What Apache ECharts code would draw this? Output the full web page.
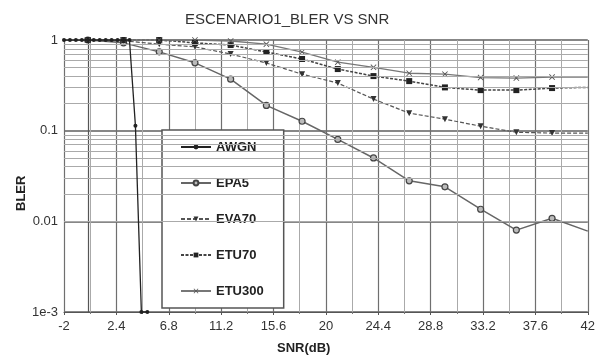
<!DOCTYPE html>
<html>
<head>
<meta charset="utf-8">
<style>
  html, body { margin: 0; padding: 0; background: #fff; }
  #chart { width: 598px; height: 358px; }
</style>
<script src="https://cdn.jsdelivr.net/npm/echarts@6/dist/echarts.min.js"></script>
</head>
<body>
<div id="chart"></div>
<script>
// SNR points (dB)
var awgnSnr = [-2, -1.5, -1, -0.5, 0, 0.5, 1, 1.5, 2, 2.5, 3, 3.5, 4, 4.5, 5];
var fadingSnr = [0, 3, 6, 9, 12, 15, 18, 21, 24, 27, 30, 33, 36, 39, 42];

// BLER per channel model
var awgnBler   = [1, 1, 1, 1, 1, 1, 1, 1, 1, 1, 1, 1, 0.113, 0.001, 0.001];
var epa5Bler   = [1, 0.93, 0.74, 0.56, 0.37, 0.19, 0.127, 0.08, 0.05, 0.028, 0.024, 0.0136, 0.008, 0.0108, 0.0078];
var eva70Bler  = [1, 0.98, 0.9, 0.84, 0.70, 0.557, 0.42, 0.335, 0.223, 0.156, 0.134, 0.112, 0.096, 0.094, 0.094];
var etu70Bler  = [1, 1, 1, 0.93, 0.88, 0.737, 0.617, 0.478, 0.40, 0.352, 0.30, 0.28, 0.28, 0.295, 0.30];
var etu300Bler = [1, 1, 1, 1, 0.975, 0.90, 0.737, 0.57, 0.50, 0.43, 0.42, 0.385, 0.38, 0.39, 0.39];

var seriesNames = ['AWGN', 'EPA5', 'EVA70', 'ETU70', 'ETU300'];

// Y tick labels for the decades
var yTickValues = [0.001, 0.01, 0.1, 1];
var yTickLabels = ['1e-3', '0.01', '0.1', '1'];

var FONT = 'Liberation Sans, Arial, Helvetica, sans-serif';
var X_SYMBOL = 'path://M0,1L1,0L5,4L9,0L10,1L6,5L10,9L9,10L5,6L1,10L0,9L4,5Z';

function pairs(xs, ys, hideLastAtEdge) {
  return xs.map(function (x, i) {
    if (hideLastAtEdge && i === xs.length - 1) {
      return { value: [x, ys[i]], symbol: 'none' };
    }
    return [x, ys[i]];
  });
}

// Minor log grid lines (2..9 within each decade)
var minorLogLines = [];
[0.001, 0.01, 0.1].forEach(function (d) {
  for (var m = 2; m <= 9; m++) {
    minorLogLines.push({ yAxis: +(d * m).toPrecision(3) });
  }
});

var chart = echarts.init(document.getElementById('chart'), null, { renderer: 'canvas' });

chart.setOption({
  animation: false,
  backgroundColor: '#fff',
  title: {
    text: 'ESCENARIO1_BLER VS SNR',
    left: 180,
    top: 7,
    textStyle: { fontFamily: FONT, fontSize: 15, fontWeight: 'normal', color: '#333' }
  },
  grid: { left: 64, right: 9, top: 40, bottom: 46 },
  legend: {
    data: seriesNames,
    orient: 'vertical',
    left: 162,
    top: 130,
    padding: [10, 20, 10, 18],
    itemGap: 22,
    itemWidth: 30,
    itemHeight: 6,
    backgroundColor: '#fff',
    borderColor: '#555',
    borderWidth: 1.5,
    textStyle: { fontFamily: FONT, fontSize: 13, fontWeight: 'bold', color: '#222', lineHeight: 14 }
  },
  xAxis: {
    type: 'value',
    min: -2,
    max: 42,
    interval: 4.4,
    axisLine: { show: true, lineStyle: { color: '#555', width: 1.2 } },
    axisTick: { show: true, length: 3, inside: false, lineStyle: { color: '#555' } },
    minorTick: { show: true, splitNumber: 2, length: 2, lineStyle: { color: '#777' } },
    axisLabel: { fontFamily: FONT, fontSize: 13, color: '#333', margin: 8 },
    splitLine: { show: true, lineStyle: { color: '#6f6f6f', width: 1.2 } },
    minorSplitLine: { show: true, lineStyle: { color: '#aaa', width: 1 } }
  },
  yAxis: {
    type: 'log',
    logBase: 10,
    min: 0.001,
    max: 1,
    axisLine: { show: true, lineStyle: { color: '#555', width: 1.2 } },
    axisTick: { show: false },
    axisLabel: {
      fontFamily: FONT, fontSize: 13, color: '#333', margin: 6,
      formatter: function (v) {
        for (var i = 0; i < yTickValues.length; i++) {
          if (Math.abs(Math.log10(v) - Math.log10(yTickValues[i])) < 1e-6) return yTickLabels[i];
        }
        return '';
      }
    },
    splitLine: { show: true, lineStyle: { color: '#5f5f5f', width: 1.5 } }
  },
  graphic: [
    {
      type: 'text', left: 277, top: 342,
      style: { text: 'SNR(dB)', font: 'bold 13px ' + FONT, fill: '#222' }
    },
    {
      type: 'text', x: 15, y: 211, rotation: Math.PI / 2,
      style: { text: 'BLER', font: 'bold 13px ' + FONT, fill: '#222' }
    }
  ],
  series: [
    {
      name: 'minor-grid',
      type: 'line',
      data: [],
      silent: true,
      z: 0,
      markLine: {
        silent: true,
        symbol: ['none', 'none'],
        label: { show: false },
        lineStyle: { color: '#aaa', width: 1, type: 'solid' },
        emphasis: { disabled: true },
        data: minorLogLines
      }
    },
    {
      name: 'AWGN', type: 'line',
      data: pairs(awgnSnr, awgnBler, false),
      symbol: 'circle', symbolSize: 4,
      itemStyle: { color: '#222' },
      lineStyle: { color: '#222', width: 1.3 },
      z: 5
    },
    {
      name: 'EPA5', type: 'line',
      data: pairs(fadingSnr, epa5Bler, true),
      symbol: 'circle', symbolSize: 6,
      itemStyle: { color: '#bbb', borderColor: '#444', borderWidth: 1.2 },
      lineStyle: { color: '#666', width: 1.5 },
      z: 4
    },
    {
      name: 'EVA70', type: 'line',
      data: pairs(fadingSnr, eva70Bler, true),
      symbol: 'triangle', symbolRotate: 180, symbolSize: 6,
      itemStyle: { color: '#333' },
      lineStyle: { color: '#555', width: 1.2, type: [4, 2] },
      z: 4
    },
    {
      name: 'ETU70', type: 'line',
      data: pairs(fadingSnr, etu70Bler, true),
      symbol: 'rect', symbolSize: 6,
      itemStyle: { color: '#222' },
      lineStyle: { color: '#444', width: 1.5, type: [3, 1.5] },
      z: 4
    },
    {
      name: 'ETU300', type: 'line',
      data: pairs(fadingSnr, etu300Bler, true),
      symbol: X_SYMBOL, symbolSize: 6,
      itemStyle: { color: '#555' },
      lineStyle: { color: '#777', width: 1.3 },
      z: 4
    }
  ]
});
</script>
</body>
</html>
